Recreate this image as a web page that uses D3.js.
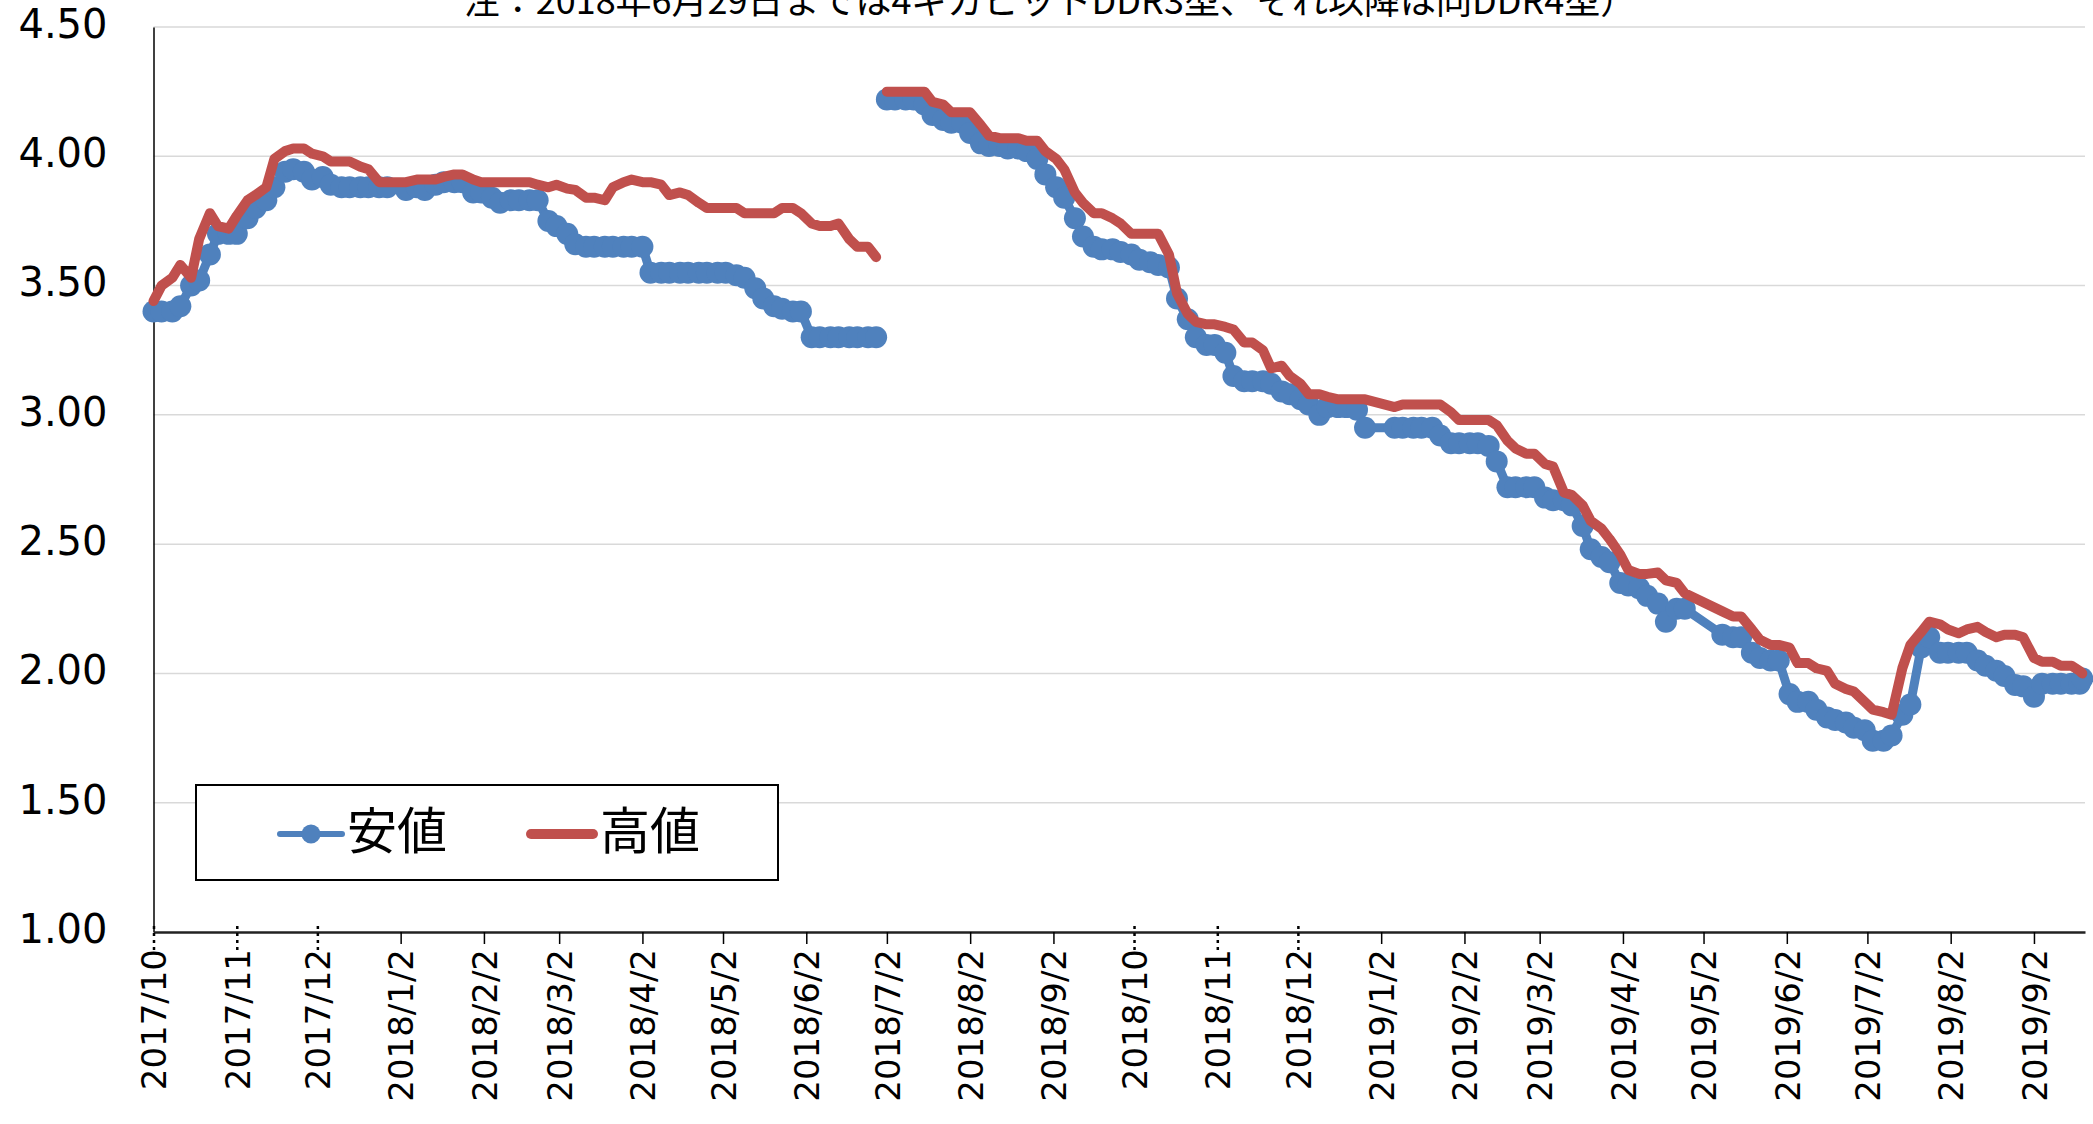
<!DOCTYPE html>
<html>
<head>
<meta charset="utf-8">
<script src="https://cdn.jsdelivr.net/npm/d3@7"></script>
<style>
    body { margin: 0; background: #fff; }
    svg { display: block; }
</style>
</head>
<body>
<script>
var width = 2093,
    height = 1124;

var parseDate = d3.timeParse('%Y-%m-%d');

// first and last quote day; readings taken every Monday and Thursday
var firstDay = '2017-10-02',
    lastDay = '2019-09-20',
    breakDay = '2018-06-30'; // DDR3 -> DDR4 switch, the lines are not joined

// 安値 (low), null = market holiday
var low = [
    3.40, 3.40, 3.40, 3.42, 3.50, 3.52, 3.62, 3.70,
    3.70, 3.70, 3.76, 3.80, 3.83, 3.88, 3.94, 3.95,
    3.94, 3.91, 3.92, 3.89, 3.88, 3.88, 3.88, 3.88,
    3.88, 3.88, null, 3.87, 3.88, 3.87, 3.89, 3.90,
    3.90, 3.90, 3.86, 3.86, 3.84, 3.82, 3.83, 3.83,
    3.83, 3.83, 3.75, 3.73, 3.70, 3.66, 3.65, 3.65,
    3.65, 3.65, 3.65, 3.65, 3.65, 3.55, 3.55, 3.55,
    3.55, 3.55, 3.55, 3.55, 3.55, 3.55, 3.54, 3.53,
    3.49, 3.45, 3.42, 3.41, 3.40, 3.40, 3.30, 3.30,
    3.30, 3.30, 3.30, 3.30, 3.30, 3.30, 4.22, 4.22,
    4.22, 4.22, 4.20, 4.16, 4.14, 4.13, 4.13, 4.09,
    4.05, 4.04, 4.04, 4.03, 4.03, 4.02, 3.99, 3.93,
    3.88, 3.84, 3.76, 3.69, 3.65, 3.64, 3.64, 3.63,
    3.62, 3.60, 3.59, 3.58, 3.57, 3.45, 3.37, 3.30,
    3.27, 3.27, 3.24, 3.15, 3.13, 3.13, 3.13, 3.12,
    3.09, 3.08, 3.06, 3.04, 3.00, 3.03, 3.03, 3.03,
    3.02, 2.95, null, null, 2.95, 2.95, 2.95, 2.95,
    2.95, 2.92, 2.89, 2.89, 2.89, 2.89, 2.88, 2.82,
    2.72, 2.72, 2.72, 2.72, 2.68, 2.67, 2.67, 2.65,
    2.57, 2.48, 2.45, 2.43, 2.35, 2.34, 2.33, 2.30,
    2.27, 2.20, 2.25, 2.25, null, null, null, 2.15,
    2.14, 2.14, 2.08, 2.06, 2.05, 2.05, 1.92, 1.89,
    1.89, 1.86, 1.83, 1.82, 1.81, 1.79, 1.78, 1.74,
    1.74, 1.76, 1.84, 1.88, 2.10, 2.14, 2.08, 2.08,
    2.08, 2.08, 2.05, 2.03, 2.01, 1.99, 1.955, 1.95,
    1.91, 1.96, 1.96, 1.96, 1.96, 1.96, 1.98
];

// 高値 (high)
var high = [
    3.44, 3.50, 3.53, 3.58, 3.53, 3.68, 3.78, 3.73,
    3.72, 3.77, 3.83, 3.85, 3.88, 3.99, 4.02, 4.03,
    4.03, 4.01, 4.00, 3.98, 3.98, 3.98, 3.96, 3.95,
    3.90, 3.90, null, 3.90, 3.91, 3.91, 3.91, 3.92,
    3.93, 3.93, 3.91, 3.90, 3.90, 3.90, 3.90, 3.90,
    3.90, 3.89, 3.88, 3.89, 3.875, 3.87, 3.84, 3.84,
    3.83, 3.88, 3.90, 3.91, 3.90, 3.90, 3.89, 3.85,
    3.86, 3.85, 3.82, 3.80, 3.80, 3.80, 3.80, 3.78,
    3.78, 3.78, 3.78, 3.80, 3.80, 3.78, 3.74, 3.73,
    3.73, 3.74, 3.68, 3.65, 3.65, 3.61, 4.25, 4.25,
    4.25, 4.25, 4.25, 4.21, 4.20, 4.17, 4.17, 4.17,
    4.12, 4.08, 4.07, 4.07, 4.07, 4.06, 4.06, 4.02,
    3.99, 3.95, 3.86, 3.82, 3.78, 3.78, 3.76, 3.74,
    3.70, 3.70, 3.70, 3.70, 3.62, 3.47, 3.39, 3.36,
    3.35, 3.35, 3.34, 3.33, 3.28, 3.28, 3.25, 3.18,
    3.19, 3.15, 3.12, 3.08, 3.08, 3.07, 3.06, 3.06,
    3.06, 3.06, null, null, 3.03, 3.04, 3.04, 3.04,
    3.04, 3.04, 3.01, 2.98, 2.98, 2.98, 2.98, 2.96,
    2.90, 2.87, 2.85, 2.85, 2.81, 2.80, 2.70, 2.69,
    2.65, 2.59, 2.56, 2.52, 2.46, 2.40, 2.385, 2.385,
    2.39, 2.36, 2.35, 2.31, null, null, null, 2.24,
    2.22, 2.22, 2.17, 2.13, 2.11, 2.11, 2.10, 2.04,
    2.04, 2.02, 2.01, 1.96, 1.94, 1.93, 1.89, 1.86,
    1.85, 1.84, 2.02, 2.11, 2.16, 2.20, 2.19, 2.17,
    2.155, 2.17, 2.18, 2.16, 2.14, 2.15, 2.15, 2.14,
    2.06, 2.045, 2.045, 2.03, 2.03, 2.01, 2.00
];

var tickDates = ['2017-10-02', '2017-11-02', '2017-12-02', '2018-01-02', '2018-02-02', '2018-03-02',
    '2018-04-02', '2018-05-02', '2018-06-02', '2018-07-02', '2018-08-02', '2018-09-02',
    '2018-10-02', '2018-11-02', '2018-12-02', '2019-01-02', '2019-02-02', '2019-03-02',
    '2019-04-02', '2019-05-02', '2019-06-02', '2019-07-02', '2019-08-02', '2019-09-02'];
var tickLabels = ['2017/10', '2017/11', '2017/12', '2018/1/2', '2018/2/2', '2018/3/2',
    '2018/4/2', '2018/5/2', '2018/6/2', '2018/7/2', '2018/8/2', '2018/9/2',
    '2018/10', '2018/11', '2018/12', '2019/1/2', '2019/2/2', '2019/3/2',
    '2019/4/2', '2019/5/2', '2019/6/2', '2019/7/2', '2019/8/2', '2019/9/2'];
var yTicks = [1.0, 1.5, 2.0, 2.5, 3.0, 3.5, 4.0, 4.5];

var titleText = '注：2018年6月29日までは4ギガビットDDR3型、それ以降は同DDR4型）';
var seriesNames = ['安値', '高値'];
var lowColor = '#4F81BD',
    highColor = '#C0504D';

var latinFont = "'DejaVu Sans', Verdana, sans-serif",
    cjkFont = "'Noto Sans CJK JP', sans-serif";

// Mondays and Thursdays, plus the last quote day
var last = parseDate(lastDay);
var dates = d3.timeDay.range(parseDate(firstDay), d3.timeDay.offset(last, 1))
    .filter(function (d) {
        return d.getDay() === 1 || d.getDay() === 4 || +d === +last;
    });

var rows = dates.map(function (d, i) {
    return { date: d, low: low[i], high: high[i] };
}).filter(function (d) {
    return d.low != null;
});

var brk = parseDate(breakDay);
var segments = [
    rows.filter(function (d) { return d.date < brk; }),
    rows.filter(function (d) { return d.date > brk; })
];

var plotLeft = 153.5,
    plotRight = 2085,
    plotTop = 27,
    plotBottom = 932;

var x = d3.scaleTime()
    .domain([parseDate('2017-10-02'), parseDate('2019-09-21')])
    .range([plotLeft, plotRight]);

var y = d3.scaleLinear()
    .domain([1, 4.5])
    .range([plotBottom, plotTop]);

var svg = d3.select('body').append('svg')
    .attr('width', width)
    .attr('height', height);

// gridlines
svg.append('g')
    .selectAll('line')
    .data(yTicks.slice(1))
    .enter().append('line')
    .attr('x1', plotLeft)
    .attr('x2', plotRight)
    .attr('y1', function (d) { return y(d); })
    .attr('y2', function (d) { return y(d); })
    .attr('stroke', '#d9d9d9')
    .attr('stroke-width', 1.5);

// y axis
var yAxis = svg.append('g')
    .attr('transform', 'translate(' + plotLeft + ',0)')
    .call(d3.axisLeft(y).tickValues(yTicks).tickFormat(d3.format('.2f'))
        .tickSize(0).tickPadding(46));
yAxis.select('.domain').attr('stroke', '#000').attr('stroke-width', 1.5);
yAxis.selectAll('text')
    .attr('dy', '0.26em')
    .attr('fill', '#000')
    .style('font-family', latinFont)
    .style('font-size', '40px');

// x axis
var xAxis = svg.append('g')
    .attr('transform', 'translate(0,' + plotBottom + ')')
    .call(d3.axisBottom(x)
        .tickValues(tickDates.map(parseDate))
        .tickFormat(function (d, i) { return tickLabels[i]; })
        .tickSize(12).tickSizeOuter(0));
xAxis.select('.domain').attr('stroke', '#222').attr('stroke-width', 2.5);
xAxis.selectAll('.tick line').attr('stroke', '#000').attr('stroke-width', 1.5);
xAxis.selectAll('.tick')
    .filter(function (d, i) { return tickLabels[i].split('/').length === 2; })
    .select('line')
    .attr('y1', -6)
    .attr('y2', 20)
    .attr('stroke-width', 2.5)
    .attr('stroke-dasharray', '3,4');
xAxis.selectAll('.tick text')
    .attr('x', null)
    .attr('y', null)
    .attr('dy', '0.36em')
    .attr('transform', 'translate(0,17) rotate(-90)')
    .attr('text-anchor', 'end')
    .attr('fill', '#000')
    .style('font-family', latinFont)
    .style('font-size', '34px');

var lineLow = d3.line()
    .x(function (d) { return x(d.date); })
    .y(function (d) { return y(d.low); });
var lineHigh = d3.line()
    .x(function (d) { return x(d.date); })
    .y(function (d) { return y(d.high); });

// 安値: line with round markers
var gLow = svg.append('g');
gLow.selectAll('path')
    .data(segments)
    .enter().append('path')
    .attr('d', lineLow)
    .attr('fill', 'none')
    .attr('stroke', lowColor)
    .attr('stroke-width', 9)
    .attr('stroke-linejoin', 'round');
gLow.selectAll('circle')
    .data(rows)
    .enter().append('circle')
    .attr('cx', function (d) { return x(d.date); })
    .attr('cy', function (d) { return y(d.low); })
    .attr('r', 11)
    .attr('fill', lowColor);

// 高値: plain line
svg.append('g').selectAll('path')
    .data(segments)
    .enter().append('path')
    .attr('d', lineHigh)
    .attr('fill', 'none')
    .attr('stroke', highColor)
    .attr('stroke-width', 10)
    .attr('stroke-linejoin', 'round')
    .attr('stroke-linecap', 'round');

// title (partly outside the top edge, as in the source)
svg.append('text')
    .attr('x', 1050)
    .attr('y', 14)
    .attr('text-anchor', 'middle')
    .style('font-family', cjkFont)
    .style('font-size', '36px')
    .text(titleText);

// legend
var legend = svg.append('g').attr('transform', 'translate(196,785)');
legend.append('rect')
    .attr('width', 582)
    .attr('height', 95)
    .attr('fill', '#fff')
    .attr('stroke', '#000')
    .attr('stroke-width', 2);

var items = legend.selectAll('g.item')
    .data(seriesNames)
    .enter().append('g')
    .attr('class', 'item')
    .attr('transform', function (d, i) { return 'translate(' + (84 + i * 251) + ',49)'; });

items.append('line')
    .attr('x1', 0)
    .attr('x2', 62)
    .attr('stroke', function (d, i) { return i === 0 ? lowColor : highColor; })
    .attr('stroke-width', function (d, i) { return i === 0 ? 6 : 10; })
    .attr('stroke-linecap', 'round');
items.filter(function (d, i) { return i === 0; })
    .append('circle')
    .attr('cx', 31)
    .attr('r', 9.5)
    .attr('fill', lowColor);
items.append('text')
    .attr('x', function (d, i) { return i === 0 ? 67 : 69; })
    .attr('y', 15)
    .style('font-family', cjkFont)
    .style('font-size', '50px')
    .text(function (d) { return d; });
</script>
</body>
</html>
